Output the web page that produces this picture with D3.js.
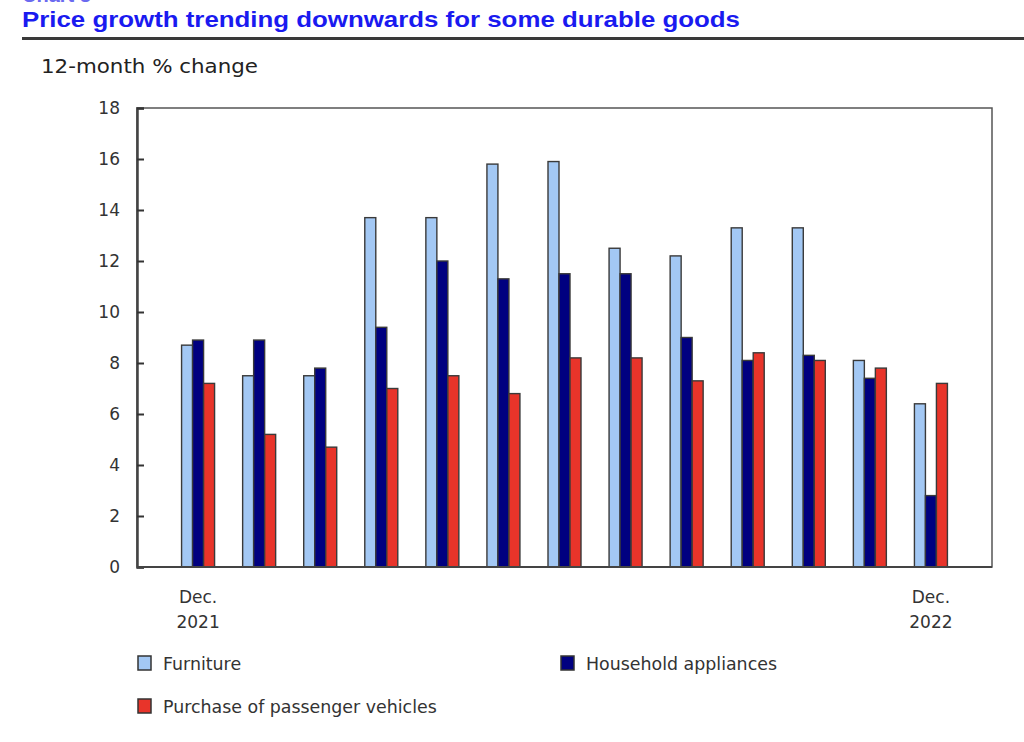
<!DOCTYPE html>
<html><head><meta charset="utf-8">
<script src="https://cdn.jsdelivr.net/npm/d3@7"></script>
<style>body{margin:0;background:#fff}svg{display:block}</style>
</head><body>
<svg id="c" width="1024" height="742"></svg>
<script>
const months = ["Dec. 2021","Jan. 2022","Feb. 2022","Mar. 2022","Apr. 2022","May 2022","Jun. 2022","Jul. 2022","Aug. 2022","Sep. 2022","Oct. 2022","Nov. 2022","Dec. 2022"];
const furniture = [8.7,7.5,7.5,13.7,13.7,15.8,15.9,12.5,12.2,13.3,13.3,8.1,6.4];
const appliances = [8.9,8.9,7.8,9.4,12.0,11.3,11.5,11.5,9.0,8.1,8.3,7.4,2.8];
const vehicles = [7.2,5.2,4.7,7.0,7.5,6.8,8.2,8.2,7.3,8.4,8.1,7.8,7.2];
const seriesNames = ["Furniture","Household appliances","Purchase of passenger vehicles"];
const yTicks = [0,2,4,6,8,10,12,14,16,18];
const xLabelMonths = ["Dec. 2021","Dec. 2022"];

const colors = ["#a3c8f4","#000080","#e8342a"];
const series = [furniture, appliances, vehicles];
const svg = d3.select("#c");

// title
svg.append("text").attr("x",22).attr("y",2).attr("font-family","Liberation Sans, Arial, sans-serif")
  .attr("font-weight","bold").attr("font-size",20).attr("fill","#6a6af0").text("Chart 3");
svg.append("text").attr("x",22).attr("y",27).attr("font-family","Liberation Sans, Arial, sans-serif")
  .attr("font-weight","bold").attr("font-size",22).attr("fill","#1a1af0")
  .attr("textLength",718).attr("lengthAdjust","spacingAndGlyphs")
  .text("Price growth trending downwards for some durable goods");
svg.append("rect").attr("x",22).attr("y",37).attr("width",1002).attr("height",3).attr("fill","#3a3a3a");

svg.append("text").attr("x",41).attr("y",73).attr("font-family","DejaVu Sans, Verdana, sans-serif")
  .attr("font-size",19).attr("fill","#222").attr("textLength",217).attr("lengthAdjust","spacingAndGlyphs")
  .text("12-month % change");

const L=137,R=992,T=108,B=567;
const x = d3.scalePoint().domain(months).range([L,R]).padding(1);
const y = d3.scaleLinear().domain([0,18]).range([B,T]);
const bw = 11;

// frame
svg.append("rect").attr("x",L).attr("y",T).attr("width",R-L).attr("height",B-T)
  .attr("fill","none").attr("stroke","#555").attr("stroke-width",1.5);

// bars
series.forEach((vals,k)=>{
  svg.append("g").selectAll("rect").data(vals).join("rect")
    .attr("x",(d,i)=>x(months[i]) - 1.5*bw + k*bw)
    .attr("y",d=>y(d)).attr("width",bw).attr("height",d=>B-y(d))
    .attr("fill",colors[k]).attr("stroke","#3a3a3a").attr("stroke-width",1.4);
});

// y axis
const ya = svg.append("g").attr("transform",`translate(${L},0)`)
  .call(d3.axisRight(y).tickValues(yTicks).tickSize(7).tickFormat(d3.format("d")));
ya.select(".domain").attr("stroke","#444").attr("stroke-width",2.5);
ya.selectAll(".tick line").attr("stroke","#333").attr("stroke-width",2);
ya.selectAll(".tick text").attr("x",-17).attr("text-anchor","end").attr("font-family","DejaVu Sans, Verdana, sans-serif")
  .attr("font-size",17).attr("fill","#333").attr("dy","0.35em");

// x axis baseline
svg.append("line").attr("x1",L).attr("x2",R).attr("y1",B).attr("y2",B).attr("stroke","#444").attr("stroke-width",2);

// x labels
const xl = svg.append("g").selectAll("text").data(xLabelMonths).join("text")
  .attr("x",d=>x(d)).attr("text-anchor","middle").attr("font-family","DejaVu Sans, Verdana, sans-serif")
  .attr("font-size",17).attr("fill","#333");
xl.append("tspan").attr("x",d=>x(d)).attr("y",603).text(d=>d.split(" ")[0]);
xl.append("tspan").attr("x",d=>x(d)).attr("y",628).text(d=>d.split(" ")[1]);

// legend
const legPos = [[137,655],[560,655],[137,698]];
seriesNames.forEach((n,k)=>{
  const [lx,ly]=legPos[k];
  svg.append("rect").attr("x",lx+1).attr("y",ly+1).attr("width",13).attr("height",14)
    .attr("fill",colors[k]).attr("stroke","#333").attr("stroke-width",1.5);
  svg.append("text").attr("x",lx+26).attr("y",ly+15).attr("font-family","DejaVu Sans, Verdana, sans-serif")
    .attr("font-size",17.4).attr("fill","#333").text(n);
});
</script>
</body></html>
